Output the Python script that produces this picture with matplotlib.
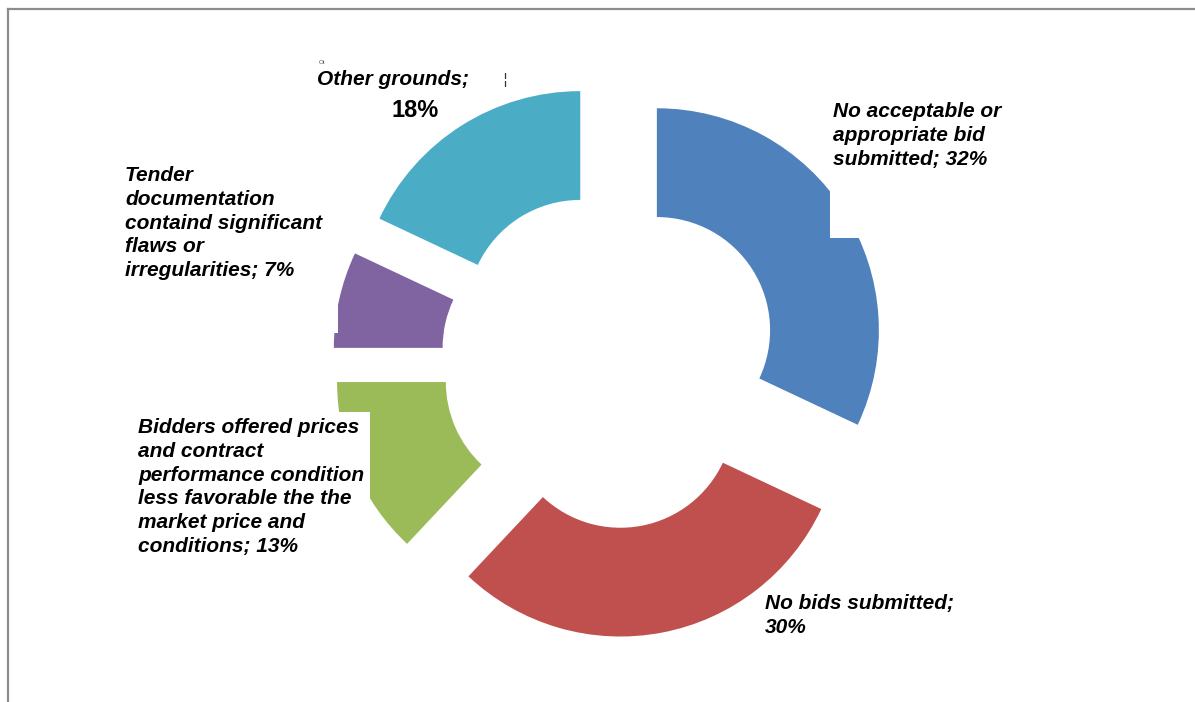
import matplotlib
matplotlib.use("Agg")
import matplotlib.pyplot as plt
from matplotlib.patches import Rectangle

# reasons for cancelled tenders, share of all cancellations (%)
reasons = ["No acceptable or\nappropriate bid\nsubmitted",
           "No bids submitted;\n",
           "Bidders offered prices\nand contract\nperformance condition\nless favorable the the\nmarket price and\nconditions",
           "Tender\ndocumentation\ncontaind significant\nflaws or\nirregularities",
           "Other grounds"]
shares = [32, 30, 13, 7, 18]
colors = ["#4F81BD", "#C0504D", "#9BBB59", "#8064A2", "#4BACC6"]

W, H = 1195, 702
fig = plt.figure(figsize=(W / 100, H / 100), dpi=100)
ax = fig.add_axes([0, 0, 1, 1])

# donut centre at (610, 360) px, outer radius 222 px
R = 222.0
cx, cy = 610.0, 360.0
ax.pie(shares, colors=colors, startangle=90, counterclock=False,
       explode=[0.25] * len(shares), radius=1.0,
       wedgeprops=dict(width=0.49, edgecolor="none", linewidth=0))
ax.set_aspect("auto")
ax.set_xlim(-cx / R, (W - cx) / R)
ax.set_ylim(-(H - cy) / R, cy / R)
ax.axis("off")


def fx(x):
    return x / W


def fy(y):
    return 1 - y / H


# white label panels sit on top of the ring
def panel(x0, y0, x1, y1):
    fig.patches.append(Rectangle((fx(x0), fy(y1)), fx(x1) - fx(x0), fy(y0) - fy(y1),
                                 transform=fig.transFigure, facecolor="white",
                                 edgecolor="none", zorder=2))


panel(830, 95, 1015, 238)
panel(135, 412, 370, 565)
panel(120, 160, 338, 333)

# outer frame
fig.add_artist(plt.Line2D([fx(8), 1], [fy(9), fy(9)], transform=fig.transFigure,
                          color="#8c8c8c", lw=1.6, zorder=5))
fig.add_artist(plt.Line2D([fx(8), fx(8)], [fy(9), 0], transform=fig.transFigure,
                          color="#8c8c8c", lw=1.6, zorder=5))

font = dict(family=["Liberation Sans", "DejaVu Sans"], fontsize=15,
            fontweight="bold", fontstyle="italic", color="black",
            linespacing=1.32, va="top", ha="left", zorder=6)

fig.text(fx(833), fy(102), f"{reasons[0]}; {shares[0]}%", **font)
fig.text(fx(765), fy(594), f"{reasons[1]}{shares[1]}%", **font)
fig.text(fx(138), fy(418), f"{reasons[2]}; {shares[2]}%", **font)
fig.text(fx(125), fy(166), f"{reasons[3]}; {shares[3]}%", **font)
fig.text(fx(317), fy(70), f"{reasons[4]};", **font)
fig.text(fx(415), fy(99), f"{shares[4]}%", family=["Liberation Sans", "DejaVu Sans"],
         fontsize=17, fontweight="bold", ha="center", va="top", zorder=6)
fig.text(fx(319), fy(60), "Ot", family=["Liberation Sans", "DejaVu Sans"],
         fontsize=4.5, color="#555555", va="top", ha="left", zorder=6)
fig.text(fx(505), fy(72), "\u00a6", family=["DejaVu Sans"],
         fontsize=11, color="#333333", va="top", ha="center", zorder=6)

fig.savefig("out.png", dpi=100, facecolor="white")
